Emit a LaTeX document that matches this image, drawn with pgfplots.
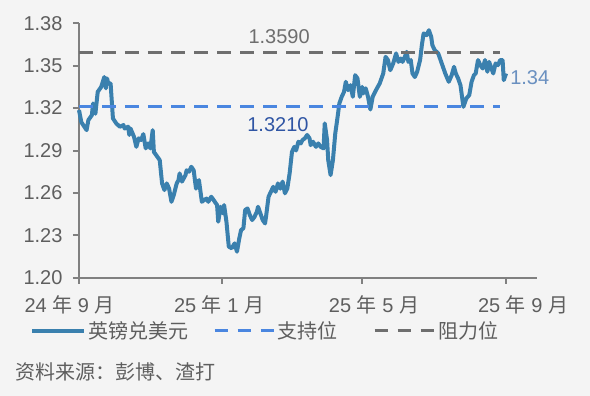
\documentclass[border=0pt]{standalone}
\usepackage{fontspec}
\setmainfont{Liberation Sans}
\newfontfamily\cjk{Noto Sans CJK SC}
\usepackage{pgfplots}
\pgfplotsset{compat=1.18}
\definecolor{bg}{HTML}{F4F4F4}
\definecolor{axisgray}{HTML}{808080}
\definecolor{txtgray}{HTML}{5E5E5E}
\definecolor{gbp}{HTML}{3A80AE}
\definecolor{support}{HTML}{4A86E0}
\definecolor{resist}{HTML}{6E6E6E}
\definecolor{suplab}{HTML}{2F55A4}
\definecolor{lastlab}{HTML}{6A90C0}
\begin{document}
\begin{tikzpicture}[font=\fontsize{20}{24}\selectfont]
\path[use as bounding box] (0,0) rectangle (590pt,-396pt);
\fill[bg] (0,0) rectangle (590pt,-396pt);
\begin{axis}[
  at={(79pt,-277.7pt)}, anchor=south west,
  scale only axis, width=458pt, height=254.4pt,
  xmin=0, xmax=391.4, ymin=1.20, ymax=1.38,
  axis x line*=bottom, axis y line*=left,
  axis line style={draw=axisgray, line width=2pt, -},
  tick style={draw=axisgray, line width=2pt},
  tick align=outside, major tick length=6pt,
  ytick={1.20,1.23,1.26,1.29,1.32,1.35,1.38},
  yticklabel style={text=txtgray, xshift=-7pt, /pgf/number format/.cd, fixed, fixed zerofill, precision=2, assume math mode=true},
  xtick={0,122,242,365}, xticklabels={},
  clip=false,
  legend style={at={(-0.107,-0.2095)}, anchor=west, draw=none, fill=none,
    legend columns=3, inner sep=0pt, text=txtgray,
    nodes={inner sep=2.5pt},
    /tikz/every even column/.append style={column sep=22pt}},
]
\addplot[gbp, line width=4pt, line join=round,
  legend image code/.code={\draw[gbp,line width=4pt](0pt,0pt)--(52pt,0pt);}]
coordinates {
(0,1.3186) (2,1.310) (6.5,1.3044) (8,1.3115) (11,1.315) (12,1.3233) (14,1.316)
(16,1.3315) (19,1.335) (21.6,1.342) (23,1.334) (24,1.341) (25,1.3375) (27,1.3375)
(29,1.3127) (32,1.309) (35,1.3068) (38,1.308) (39,1.3056) (42,1.3068) (43,1.301)
(44,1.3056) (47,1.2997) (49,1.2926) (51,1.2986) (53,1.2974) (55,1.3016) (57,1.2915)
(59,1.295) (61,1.2915) (63,1.3044) (64,1.289) (67,1.2855) (69,1.2832) (71,1.2667)
(73,1.262) (75,1.2667) (77,1.263) (79,1.2537) (81,1.2585) (83.5,1.2667) (85,1.269)
(86,1.2738) (88,1.268) (91,1.2726) (92,1.276) (94,1.275) (96,1.2785) (98,1.276)
(100,1.263) (101,1.2667) (102.5,1.269) (105,1.2537) (107,1.255) (109,1.256)
(110.5,1.2537) (113,1.2573) (115,1.255) (118,1.2514) (119,1.2396) (121,1.2502)
(123,1.2455) (124,1.2514) (126,1.2396) (128,1.222) (130.5,1.2208) (133,1.2243)
(135,1.2184) (137,1.2279) (138.5,1.2337) (140.5,1.235) (142,1.2479) (144,1.249)
(146,1.2443) (148,1.2408) (150,1.2431) (152,1.2467) (153,1.2502) (155,1.2455)
(157,1.2408) (159,1.2384) (160,1.2443) (162,1.2573) (164,1.2608) (166,1.2643)
(168,1.2608) (170,1.2667) (172,1.263) (174,1.268) (176,1.2597) (178,1.263)
(180,1.2738) (182,1.289) (184,1.2926) (185.5,1.290) (187.5,1.2962) (189.5,1.295)
(191,1.2974) (193,1.2986) (195,1.301) (197,1.2986) (198,1.2938) (200,1.2962)
(202.5,1.2926) (204.5,1.295) (206.5,1.2926) (209,1.2915) (210,1.3092) (212,1.2974)
(213,1.2832) (215,1.2726) (217,1.2832) (219,1.302) (221,1.3138) (222.5,1.3233)
(224.5,1.328) (226.5,1.3315) (228,1.3386) (230,1.3327) (232,1.3362) (234,1.328)
(236,1.3433) (238,1.341) (240,1.328) (242,1.335) (243,1.3304) (245,1.334)
(247,1.328) (249,1.319) (251,1.328) (254,1.333) (257,1.3375) (260,1.3445)
(262,1.3563) (264,1.354) (266,1.3468) (268.5,1.3516) (271,1.3587) (273,1.3527)
(275,1.3551) (276.5,1.3527) (278.5,1.3563) (280,1.3598) (281.5,1.3527) (283.5,1.354)
(285,1.3445) (287,1.342) (289,1.3457) (291.5,1.354) (293,1.3645) (294.5,1.3728)
(297,1.3716) (299,1.3751) (301,1.3704) (302,1.3645) (304,1.361) (307,1.3587)
(310,1.3516) (313,1.3445) (316,1.3386) (318.5,1.3433) (320.5,1.3492) (322,1.3445)
(324,1.341) (326,1.3362) (328.5,1.3209) (331,1.3268) (333.5,1.3292) (335.5,1.3386)
(337.5,1.3433) (339,1.3445) (341,1.354) (343,1.3504) (345,1.348) (347,1.354)
(349,1.3457) (350.5,1.3527) (352.5,1.348) (354,1.3445) (356,1.3516) (358,1.3504)
(360,1.354) (362,1.354) (363,1.3398) (365,1.3445)
};
\addlegendentry{\cjk 英镑兑美元}
\addplot[support, line width=3pt, dash pattern=on 14pt off 9pt,
  legend image code/.code={\draw[support,line width=3pt,dash pattern=on 13pt off 10pt](0pt,0pt)--(59pt,0pt);}]
coordinates {(0,1.321) (360,1.321)};
\addlegendentry{{\cjk 支持位}\hspace*{11pt}}
\addplot[resist, line width=3pt, dash pattern=on 14pt off 9pt,
  legend image code/.code={\draw[resist,line width=3pt,dash pattern=on 13pt off 10pt](0pt,0pt)--(60pt,0pt);}]
coordinates {(0,1.359) (360,1.359)};
\addlegendentry{\cjk 阻力位}
\node[resist] at (axis cs:171,1.3709) {1.3590};
\node[suplab] at (axis cs:170,1.308) {1.3210};
\node[lastlab, anchor=west, inner sep=0pt] at (axis cs:368.4,1.3419) {1.34};
\node[txtgray] at (axis cs:-8.1,1.1807) {24 {\cjk 年} 9 {\cjk 月}};
\node[txtgray] at (axis cs:119.7,1.1807) {25 {\cjk 年} 1 {\cjk 月}};
\node[txtgray] at (axis cs:252.1,1.1807) {25 {\cjk 年} 5 {\cjk 月}};
\node[txtgray] at (axis cs:379.5,1.1807) {25 {\cjk 年} 9 {\cjk 月}};
\end{axis}
\node[anchor=west, inner sep=0pt, text=txtgray] at (15pt,-371.7pt) {\cjk 资料来源：彭博、渣打};
\end{tikzpicture}
\end{document}
